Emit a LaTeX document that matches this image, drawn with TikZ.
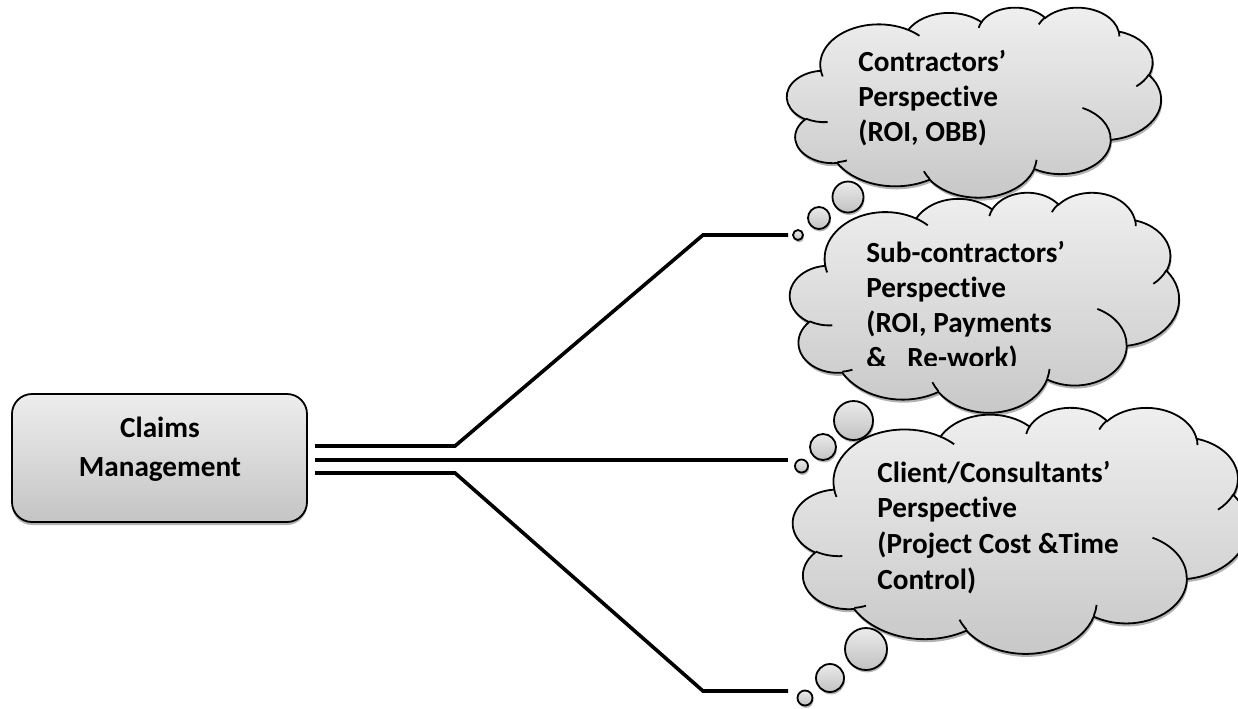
\documentclass[tikz,border=0pt]{standalone}
\usepackage{fontspec}
\setmainfont[Ligatures={NoCommon}]{Carlito}
\usetikzlibrary{shadows}
% arcTo of DrawingML (visual angles, y down) turned into a TikZ arc (y up)
\newcommand\ooarc[4]{%
  \pgfextra{%
    \pgfmathsetmacro\ooTa{atan2((#1)*sin(#3),(#2)*cos(#3))}%
    \pgfmathsetmacro\ooTb{atan2((#1)*sin((#3)+(#4)),(#2)*cos((#3)+(#4)))}%
    \pgfmathsetmacro\ooTb{(\ooTb<\ooTa) ? \ooTb+360 : \ooTb}%
    \pgfmathsetmacro\ooSa{0-(\ooTa)}%
    \pgfmathsetmacro\ooSb{0-(\ooTb)}%
  }%
  arc[start angle=\ooSa, end angle=\ooSb, x radius=#1, y radius=#2]}
\def\cloudpath{(39,288.30)
 \ooarc{67.53}{91.90}{-190.4875}{123.7805}
 \ooarc{53.33}{72.67}{-144.1024}{89.9452}
 \ooarc{43.65}{59.45}{-145.8079}{99.7230}
 \ooarc{48.57}{65.95}{-130.9861}{117.2417}
 \ooarc{53.33}{72.73}{-78.7089}{109.0269}
 \ooarc{67.75}{92.20}{-46.2673}{130.2690}
 \ooarc{57.85}{78.67}{0.6250}{114.0333}
 \ooarc{67.52}{92.15}{22.4516}{115.1726}
 \ooarc{77.20}{105.43}{66.2426}{75.7110}
 \ooarc{43.60}{59.18}{-274.9421}{146.7356}
 \ooarc{43.45}{59.45}{-246.8285}{152.5189}
 -- cycle}
\def\cloudinner{(46.93,170.23) \ooarc{43.45}{59.45}{86.7420}{26.4295}
 (69.28,83.01) \ooarc{43.60}{59.18}{73.6105}{11.4475}
 (164.78,41.10) \ooarc{67.52}{92.15}{137.6242}{14.0811}
 (288.27,84.49) \ooarc{67.52}{92.15}{6.4533}{15.9984}
 (341.29,202.46) \ooarc{57.85}{78.67}{-70.2924}{70.9174}
 (417.98,278.46) \ooarc{53.33}{72.73}{30.3180}{27.7515}
 (383.24,377.74) \ooarc{48.57}{65.95}{-13.7443}{14.8589}
 (290.78,392.48) \ooarc{48.57}{65.95}{-149.1815}{18.1954}
 (221.41,384.80) \ooarc{43.65}{59.45}{-163.4943}{17.6864}
 (140.00,380.08) \ooarc{67.53}{91.90}{-66.7070}{12.3194}
 (41.27,274.11) \ooarc{67.53}{91.90}{157.6544}{11.8582}}
% cloud: left x, top y, width, height (pixels)
\newcommand\cloudshape[4]{%
  \begin{scope}[shift={(#1+1,#2+#4+3)}, x=1pt, y=1pt, xscale=#3/864, yscale=#4/864]
    \fill[shadowc] \cloudpath;
  \end{scope}
  \begin{scope}[shift={(#1,#2+#4)}, x=1pt, y=1pt, xscale=#3/864, yscale=#4/864]
    \draw[cloudfill] \cloudpath;
    \draw[cloudline] \cloudinner;
  \end{scope}}
\tikzset{
  conn/.style={line width=1.8pt, line cap=butt, line join=miter},
  shadowc/.style={fill=black, opacity=0.3},
  cloudfill/.style={draw=black, line width=0.9pt, top color=black!6, bottom color=black!22},
  cloudline/.style={draw=black, line width=0.9pt},
  boxstyle/.style={draw=black, line width=0.9pt, rounded corners=10pt, top color=black!7,
    bottom color=black!23, minimum width=147.5pt, minimum height=64pt, inner sep=0pt,
    drop shadow={shadow xshift=0pt, shadow yshift=-1.5pt, opacity=0.3, fill=black}},
  bubble/.style={circle, draw=black, line width=0.9pt, inner sep=0pt, top color=black!8,
    bottom color=black!24, drop shadow={shadow xshift=0.5pt, shadow yshift=-1.2pt, opacity=0.3, fill=black}},
  btext/.style={anchor=base, inner sep=0pt, font=\bfseries\fontsize{14.6}{17}\selectfont},
  ctext/.style={anchor=base west, inner sep=0pt, font=\bfseries\fontsize{14.6}{17}\selectfont}
}
\begin{document}
\begin{tikzpicture}[x=0.5pt, y=-0.5pt]
\useasboundingbox (0,0) rectangle (1238,708);

% box
\node[boxstyle] (box) at (159.5,458) {};
\node[btext] (bt1) at (160,437) {Claims};
\node[btext] (bt2) at (160,476) {Management};

% connectors
\coordinate (s1) at (315,446);
\coordinate (s2) at (315,460);
\coordinate (s3) at (315,473);
\coordinate (e1) at (788,235);
\coordinate (e2) at (788,460);
\coordinate (e3) at (788,691);
\draw[conn] (s1) -- ++(140,0) -- ([xshift=-42.5pt]e1) -- (e1);
\draw[conn] (s2) -- (e2);
\draw[conn] (s3) -- ++(140,0) -- ([xshift=-42.5pt]e3) -- (e3);

% cloud 1
\cloudshape{787}{7}{374}{190}
\node[bubble, minimum size=5pt] (b1s) at (798,235) {};
\node[bubble, minimum size=11pt] (b1m) at (819,218) {};
\node[bubble, minimum size=15.5pt] (b1l) at (848,197) {};
\node[ctext] (t1a) at (858,71) {Contractors’};
\node[ctext] (t1b) at (858,106) {Perspective};
\node[ctext] (t1c) at (858,141) {(ROI, OBB)};

% cloud 2
\cloudshape{790}{192}{389}{220}
\node[bubble, minimum size=6.5pt] (b2s) at (801.5,466) {};
\node[bubble, minimum size=13pt] (b2m) at (823,447) {};
\node[bubble, minimum size=19.5pt] (b2l) at (853.5,420.5) {};
\begin{scope}
\clip (840,230) rectangle (1120,365);
\node[ctext] (t2a) at (866,262) {Sub-contractors’};
\node[ctext] (t2b) at (866,297) {Perspective};
\node[ctext] (t2c) at (866,332) {(ROI, Payments};
\node[ctext] (t2d) at (866,367) {\&\hspace{0.7em}Re-work)};
\end{scope}

% cloud 3
\cloudshape{793}{407}{455}{246}
\node[bubble, minimum size=7.5pt] (b3s) at (805,698) {};
\node[bubble, minimum size=14pt] (b3m) at (830,678) {};
\node[bubble, minimum size=21pt] (b3l) at (866,649) {};
\node[ctext] (t3a) at (877,482) {Client/Consultants’};
\node[ctext] (t3b) at (877,517) {Perspective};
\node[ctext] (t3c) at (877,553) {(Project Cost \&Time};
\node[ctext] (t3d) at (877,589) {Control)};
\end{tikzpicture}
\end{document}
